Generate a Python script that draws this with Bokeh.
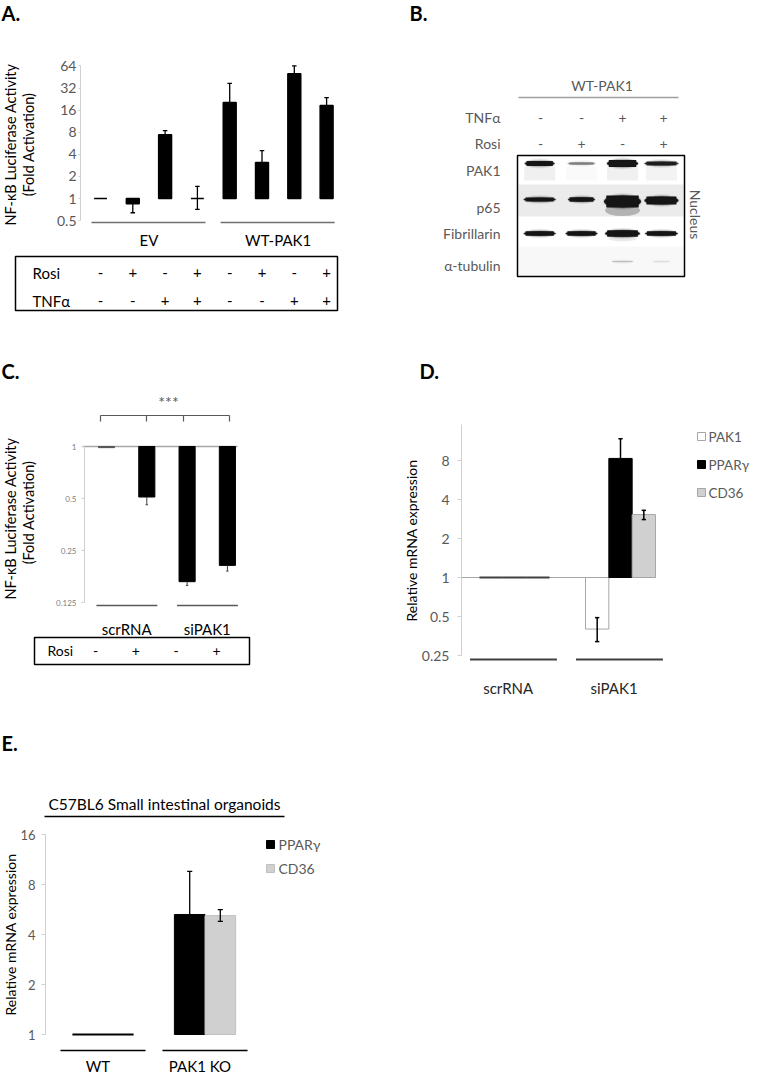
import math
from bokeh.plotting import figure
from bokeh.models import Range1d, FixedTicker, CustomJSTickFormatter, Spacer
from bokeh.layouts import row, column
from bokeh.core.properties import value
from bokeh.embed import file_html
from bokeh.resources import INLINE

FONT = "Lato"
GREY_TXT = "#595959"
AXIS_GREY = "#d0d0d0"

# ---------------- data ----------------
# Panel A
a_groups = ["EV", "WT-PAK1"]
a_rosi = ["-", "+", "-", "+", "-", "+", "-", "+"]
a_tnf = ["-", "-", "+", "+", "-", "-", "+", "+"]
a_values = [1.0, 0.85, 7.4, 1.0, 20.3, 3.1, 50.0, 18.5]
a_err_hi = [1.0, 0.85, 8.4, 1.46, 36.9, 4.5, 64.0, 23.7]
a_err_lo = [1.0, 0.64, 7.4, 0.71, 20.3, 3.1, 50.0, 18.5]
a_ticks = [0.5, 1, 2, 4, 8, 16, 32, 64]

# Panel B (western blot, band intensities per lane)
b_tnf = ["-", "-", "+", "+"]
b_rosi = ["-", "+", "-", "+"]
b_rows = ["PAK1", "p65", "Fibrillarin", "α-tubulin"]
b_pak1 = [0.95, 0.3, 1.0, 0.8]
b_p65 = [0.95, 0.95, 1.0, 1.0]
b_fibrillarin = [1.0, 1.0, 1.0, 1.0]
b_tubulin = [0.0, 0.0, 0.12, 0.05]

# Panel C
c_groups = ["scrRNA", "siPAK1"]
c_rosi = ["-", "+", "-", "+"]
c_values = [0.985, 0.51, 0.165, 0.205]
c_err_lo = [0.985, 0.46, 0.157, 0.19]
c_ticks = [0.125, 0.25, 0.5, 1]

# Panel D
d_groups = ["scrRNA", "siPAK1"]
d_genes = ["PAK1", "PPARγ", "CD36"]
d_pak1 = [1.0, 0.40]
d_pparg = [1.0, 8.3]
d_cd36 = [1.0, 3.06]
d_pak1_lo = [1.0, 0.32]
d_pak1_hi = [1.0, 0.49]
d_pparg_lo = [1.0, 8.3]
d_pparg_hi = [1.0, 11.8]
d_cd36_lo = [1.0, 2.8]
d_cd36_hi = [1.0, 3.3]
d_ticks = [0.25, 0.5, 1, 2, 4, 8]

# Panel E
e_title = "C57BL6 Small intestinal organoids"
e_groups = ["WT", "PAK1 KO"]
e_genes = ["PPARγ", "CD36"]
e_pparg = [1.0, 5.28]
e_cd36 = [1.0, 5.2]
e_pparg_lo = [1.0, 5.28]
e_pparg_hi = [1.0, 9.6]
e_cd36_lo = [1.0, 4.8]
e_cd36_hi = [1.0, 5.65]
e_ticks = [1, 2, 4, 8, 16]


# ---------------- helpers ----------------
def make_fig(w, h, xr, yr, log):
    p = figure(width=w, height=h, x_range=xr, y_range=yr,
               y_axis_type="log" if log else "linear",
               output_backend="svg", toolbar_location=None,
               min_border=0, outline_line_color=None)
    p.title.visible = False
    p.grid.visible = False
    p.xaxis.visible = False
    if not log:
        p.yaxis.visible = False
    p.background_fill_color = "white"
    p.border_fill_color = "white"
    return p


def log_axis(p, xloc, ticks, bounds, size, color=GREY_TXT, tick_out=3, standoff=3):
    ax = p.yaxis[0]
    ax.fixed_location = xloc
    ax.ticker = FixedTicker(ticks=ticks, minor_ticks=[])
    ax.formatter = CustomJSTickFormatter(code="return tick.toString();")
    ax.bounds = bounds
    ax.axis_line_color = AXIS_GREY
    ax.axis_line_width = 1
    ax.major_tick_line_color = AXIS_GREY
    ax.major_tick_out = tick_out
    ax.major_tick_in = 0
    ax.minor_tick_line_color = None
    ax.major_label_text_font = FONT
    ax.major_label_text_font_size = size
    ax.major_label_text_color = color
    ax.major_label_standoff = standoff


def txt(p, x, y, s, size="14px", color="black", align="center",
        baseline="middle", angle=0.0, style="normal"):
    p.text(x=[x], y=[y], text=[s], angle=angle, text_font=value(FONT),
           text_font_size=size, text_color=color, text_align=align,
           text_baseline=baseline, text_font_style=style)


def errbars(p, xs, vals, lo, hi, cap, color="black", width=1.3):
    x0, y0, x1, y1 = [], [], [], []
    for x, v, l, h in zip(xs, vals, lo, hi):
        if h > l:
            x0.append(x); y0.append(l); x1.append(x); y1.append(h)
        if h > v:
            x0.append(x - cap / 2); y0.append(h); x1.append(x + cap / 2); y1.append(h)
        if l < v:
            x0.append(x - cap / 2); y0.append(l); x1.append(x + cap / 2); y1.append(l)
    if x0:
        p.segment(x0=x0, y0=y0, x1=x1, y1=y1, line_color=color, line_width=width)


def hline(p, x0, x1, y, color, width):
    p.segment(x0=[x0], y0=[y], x1=[x1], y1=[y], line_color=color, line_width=width)


# Row boundaries in reference pixels: row1 8-330, row2 330-706, row3 706-1083
R1, R2, R3, R4 = 8, 330, 706, 1083
C1, C2, C3 = 8, 390, 759

# ---------------- Panel A ----------------
def ax_(px): return (px - 108.0) / 32.3
def ay_(py): return 2 ** ((206.0 - py) / 22.1)

pA = make_fig(C2 - C1, R2 - R1, Range1d(ax_(C1), ax_(C2)), Range1d(ay_(R2), ay_(R1)), True)
xa = list(range(len(a_values)))
pA.vbar(x=xa, width=0.4, top=[max(v, 1.0) for v in a_values],
        bottom=[min(v, 1.0) for v in a_values],
        fill_color="black", line_color="black", line_width=1.5)
errbars(pA, xa, a_values, a_err_lo, a_err_hi, cap=0.14, color="black", width=1.3)
log_axis(pA, ax_(88), a_ticks, (0.5, 64), "14px", tick_out=2, standoff=2)
for g, name in enumerate(a_groups):
    hline(pA, 4 * g - 0.28, 4 * g + 3.25, ay_(230), "#6f6f6f", 1.3)
    txt(pA, 4 * g + 1.5, ay_(247), name, size="15px")
pA.quad(left=[ax_(23)], right=[ax_(345)], bottom=[ay_(318)], top=[ay_(264)],
        fill_color=None, line_color="black", line_width=1.5)
txt(pA, ax_(40), ay_(280), "Rosi", size="15px", align="left")
txt(pA, ax_(40), ay_(308), "TNFα", size="15px", align="left")
for i in xa:
    txt(pA, i, ay_(280), a_rosi[i], size="15px")
    txt(pA, i, ay_(308), a_tnf[i], size="15px")
txt(pA, ax_(18), ay_(152), "NF-κB Luciferase Activity", size="14.5px", angle=math.pi / 2)
txt(pA, ax_(36), ay_(152), "(Fold Activation)", size="14.5px", angle=math.pi / 2)
txt(pA, ax_(9), ay_(20), "A.", size="20px", align="left", style="bold")

# ---------------- Panel B ----------------
def bx(px): return (px - 548.0) / 41.0

pB = make_fig(C3 - C2, R2 - R1, Range1d(bx(C2), bx(C3)), Range1d(R2, R1), False)
lane_x = [-0.02, 1.0, 2.0, 2.95]
# background strips
pB.quad(left=[bx(526)], right=[bx(691)], top=[192], bottom=[224],
        fill_color="#ebebeb", line_color=None)
pB.quad(left=[bx(526)], right=[bx(691)], top=[254], bottom=[284],
        fill_color="#f8f8f8", line_color=None)
# smears
pB.quad(left=[x - 0.38 for x in lane_x], right=[x + 0.38 for x in lane_x],
        top=[174] * 4, bottom=[188] * 4, fill_color="black",
        fill_alpha=[0.06 * a for a in b_pak1], line_color=None)
pB.ellipse(x=[2.0], y=[218], width=0.85, height=11,
           fill_color="#333333", fill_alpha=0.3, line_color=None)
pB.ellipse(x=[2.0], y=[246], width=0.7, height=6,
           fill_color="black", fill_alpha=0.08, line_color=None)


def band(p, y, widths, thick, inten, ys=None):
    for i, (x, w, t, a) in enumerate(zip(lane_x, widths, thick, inten)):
        if a <= 0:
            continue
        yy = y if ys is None else ys[i]
        p.ellipse(x=[x], y=[yy], width=w * 1.06, height=t + 5, fill_color="black",
                  fill_alpha=0.08 * a, line_color=None)
        p.ellipse(x=[x], y=[yy], width=w * 1.02, height=t + 2.5, fill_color="black",
                  fill_alpha=0.2 * a, line_color=None)
        p.rect(x=[x], y=[yy], width=w * 0.88, height=t, fill_color="#151515",
               fill_alpha=a, line_color=None)
        p.ellipse(x=[x], y=[yy], width=w, height=t, fill_color="#151515",
                  fill_alpha=a, line_color=None)


band(pB, 171, [0.73, 0.68, 0.76, 0.83], [5, 2.5, 7, 4], b_pak1)
band(pB, 207, [0.78, 0.66, 0.9, 0.83], [4, 4.5, 12, 8], b_p65, ys=[207, 207, 209, 208])
band(pB, 241, [0.78, 0.78, 0.85, 0.8], [4.5, 4.5, 6.5, 4.5], b_fibrillarin)
band(pB, 269, [0.5, 0.5, 0.55, 0.45], [1.5, 1.5, 1.5, 1.5], b_tubulin)

pB.quad(left=[bx(525)], right=[bx(692)], top=[163], bottom=[284],
        fill_color=None, line_color="black", line_width=1.5)
txt(pB, 1.5, 93, "WT-PAK1", size="14px", color=GREY_TXT)
hline(pB, bx(526), bx(686), 105, "#a0a0a0", 1.5)
txt(pB, bx(508), 125, "TNFα", size="14px", color=GREY_TXT, align="right")
txt(pB, bx(508), 151, "Rosi", size="14px", color=GREY_TXT, align="right")
row_y = [178, 215, 241, 273]
for name, yy in zip(b_rows, row_y):
    txt(pB, bx(508), yy, name, size="14px", color=GREY_TXT, align="right")
for i in range(4):
    txt(pB, i, 125, b_tnf[i], size="14px", color=GREY_TXT)
    txt(pB, i, 151, b_rosi[i], size="14px", color=GREY_TXT)
txt(pB, bx(703), 222, "Nucleus", size="14px", color=GREY_TXT, angle=-math.pi / 2)
txt(pB, bx(417), 20, "B.", size="20px", align="left", style="bold")

# ---------------- Panel C ----------------
def cx(px): return (px - 114.0) / 40.3
def cy(py): return 2 ** ((454.0 - py) / 52.0)

pC = make_fig(C2 - C1, R3 - R2, Range1d(cx(C1), cx(C2)), Range1d(cy(R3), cy(R2)), True)
xc = list(range(len(c_values)))
hline(pC, cx(90), cx(245), 1.0, "#a6a6a6", 1.5)
pC.vbar(x=xc, width=0.4, top=[1.0] * len(c_values), bottom=c_values,
        fill_color=["#555555"] + ["black"] * 3, line_color=["#555555"] + ["black"] * 3)
errbars(pC, xc, c_values, c_err_lo, c_values, cap=0.06, color="#404040", width=1)
log_axis(pC, cx(92), c_ticks, (0.125, 1), "8px", color="#808080", tick_out=3, standoff=5)
# significance bracket
hline(pC, cx(108), cx(237), cy(423), "#595959", 1.2)
pC.segment(x0=[cx(v) for v in (108, 154, 191, 237)], y0=[cy(423)] * 4,
           x1=[cx(v) for v in (108, 154, 191, 237)], y1=[cy(429)] * 4,
           line_color="#595959", line_width=1.2)
txt(pC, cx(176), cy(409), "***", size="16px", color=GREY_TXT)
for g, name in enumerate(c_groups):
    hline(pC, 2 * g - 0.25, 2 * g + 1.26, cy(613), "#595959", 1.5)
    txt(pC, 2 * g + 0.5, cy(636), name, size="15px")
pC.quad(left=[cx(42)], right=[cx(257)], bottom=[cy(672)], top=[cy(645)],
        fill_color=None, line_color="black", line_width=1.5)
txt(pC, cx(55), cy(658), "Rosi", size="14px", align="left")
for i in xc:
    txt(pC, i - 0.27, cy(658), c_rosi[i], size="14px")
txt(pC, cx(18), cy(526), "NF-κB Luciferase Activity", size="14.5px", angle=math.pi / 2)
txt(pC, cx(36), cy(520), "(Fold Activation)", size="14.5px", angle=math.pi / 2)
txt(pC, cx(9), cy(378), "C.", size="20px", align="left", style="bold")

# ---------------- Panel D ----------------
def dx(px): return (px - 522.0) / 106.0
def dy(py): return 2 ** ((585.0 - py) / 39.0)

pD = make_fig(C3 - C2, R3 - R2, Range1d(dx(C2), dx(C3)), Range1d(dy(R3), dy(R2)), True)
xd = list(range(len(d_groups)))
hline(pD, dx(468), dx(663), 1.0, "#a6a6a6", 1)
d_series = [(d_pak1, d_pak1_lo, d_pak1_hi, "white", "#a6a6a6"),
            (d_pparg, d_pparg_lo, d_pparg_hi, "black", "black"),
            (d_cd36, d_cd36_lo, d_cd36_hi, "#d0d0d0", "#a6a6a6")]
d_off = [-0.22, 0.0, 0.22]
for (vals, lo, hi, fc, lc), off in zip(d_series, d_off):
    xs = [g + off for g in xd]
    pD.vbar(x=xs, width=0.22, top=[max(v, 1.0) for v in vals],
            bottom=[min(v, 1.0) for v in vals], fill_color=fc,
            line_color=[("#404040" if v == 1.0 else lc) for v in vals],
            line_width=[(2 if v == 1.0 else 1) for v in vals])
for (vals, lo, hi, fc, lc), off in zip(d_series, d_off):
    xs = [g + off for g in xd]
    errbars(pD, xs, vals, lo, hi, cap=0.04, color="black", width=1.5)
log_axis(pD, dx(469), d_ticks, (0.25, 15.1), "14px", tick_out=4, standoff=8)
for g, name in enumerate(d_groups):
    hline(pD, g - 0.42, g + 0.40, dy(667), "#404040", 2)
    txt(pD, g - 0.06, dy(695), name, size="15px", color="#262626")
d_fill = ["white", "black", "#d0d0d0"]
d_line = ["#a6a6a6", "black", "#a6a6a6"]
d_ly = [dy(444), dy(472), dy(500)]
pD.rect(x=[dx(709)] * 3, y=d_ly, width=8, height=8, width_units="screen",
        height_units="screen", fill_color=d_fill, line_color=d_line)
for name, yy in zip(d_genes, d_ly):
    txt(pD, dx(716), yy, name, size="13.5px", color=GREY_TXT, align="left")
txt(pD, dx(419), dy(548), "Relative mRNA expression", size="14px", angle=math.pi / 2)
txt(pD, dx(427), dy(378), "D.", size="20px", align="left", style="bold")

# ---------------- Panel E ----------------
def ex(px): return (px - 110.5) / 102.0
def ey(py): return 2 ** ((1042.0 - py) / 50.0)

pE = make_fig(C2 - C1, R4 - R3, Range1d(ex(C1), ex(C2)), Range1d(ey(R4), ey(R3)), True)
xe = list(range(len(e_groups)))
e_series = [(e_pparg, e_pparg_lo, e_pparg_hi, "black", "black"),
            (e_cd36, e_cd36_lo, e_cd36_hi, "#d0d0d0", "#c0c0c0")]
e_off = [-0.15, 0.15]
for (vals, lo, hi, fc, lc), off in zip(e_series, e_off):
    xs = [g + off for g in xe]
    pE.vbar(x=xs, width=0.3, top=[max(v, 1.0) for v in vals],
            bottom=[min(v, 1.0) for v in vals], fill_color=fc,
            line_color=[("black" if v == 1.0 else lc) for v in vals],
            line_width=[(2 if v == 1.0 else 1) for v in vals])
for (vals, lo, hi, fc, lc), off in zip(e_series, e_off):
    xs = [g + off for g in xe]
    errbars(pE, xs, vals, lo, hi, cap=0.05, color="black", width=1.3)
log_axis(pE, ex(53), e_ticks, (1, 16), "13px", tick_out=4, standoff=6)
txt(pE, ex(172), ey(811), e_title, size="15.5px")
hline(pE, ex(52), ex(292), ey(824), "black", 1.5)
for g, name in enumerate(e_groups):
    hline(pE, g - 0.417, g + 0.417, ey(1058), "black", 1.5)
    txt(pE, g - 0.05, ey(1073), name, size="15px")
e_fill = ["black", "#d0d0d0"]
e_line = ["black", "#c0c0c0"]
e_ly = [ey(852), ey(876)]
pE.rect(x=[ex(278)] * 2, y=e_ly, width=8, height=8, width_units="screen",
        height_units="screen", fill_color=e_fill, line_color=e_line)
for name, yy in zip(e_genes, e_ly):
    txt(pE, ex(286), yy, name, size="14px", color=GREY_TXT, align="left")
txt(pE, ex(18), ey(942), "Relative mRNA expression", size="14px", angle=math.pi / 2)
txt(pE, ex(9), ey(750), "E.", size="20px", align="left", style="bold")

layout = column(row(pA, pB), row(pC, pD), row(pE, Spacer(width=C3 - C2, height=R4 - R3)))
open("out.html", "w").write(file_html(layout, INLINE))
